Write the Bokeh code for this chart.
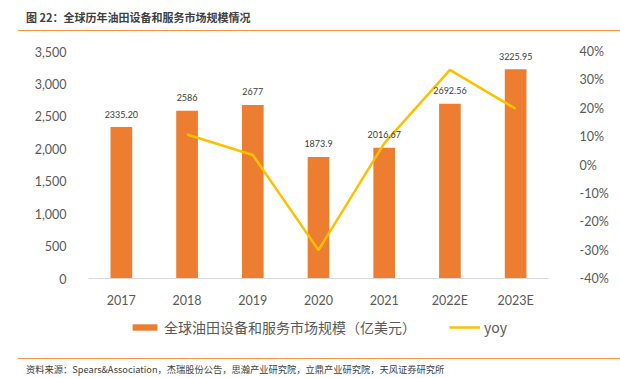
from bokeh.plotting import figure
from bokeh.layouts import column
from bokeh.models import (Range1d, LinearAxis, NumeralTickFormatter, ColumnDataSource,
                          LabelSet, Legend, LegendItem, FixedTicker, Div)
from bokeh.core.properties import value
from bokeh.embed import file_html
from bokeh.resources import INLINE

years = ["2017", "2018", "2019", "2020", "2021", "2022E", "2023E"]
market = [2335.20, 2586, 2677, 1873.9, 2016.67, 2692.56, 3225.95]
market_labels = ["2335.20", "2586", "2677", "1873.9", "2016.67", "2692.56", "3225.95"]
yoy_years = ["2018", "2019", "2020", "2021", "2022E", "2023E"]
yoy = [0.1074, 0.0352, -0.3000, 0.0762, 0.3351, 0.1981]
left_ticks = [0, 500, 1000, 1500, 2000, 2500, 3000, 3500]
right_ticks = [-0.4, -0.3, -0.2, -0.1, 0.0, 0.1, 0.2, 0.3, 0.4]

title_text = "图 22：全球历年油田设备和服务市场规模情况"
bar_name = "全球油田设备和服务市场规模（亿美元）"
line_name = "yoy"
source_text = "资料来源：Spears&Association，杰瑞股份公告，思瀚产业研究院，立鼎产业研究院，天风证券研究所"

CJK = "Noto Sans CJK SC"
NUM = "Lato"
GRAY = "#595959"
BAR = "#ED7D31"
LINE = "#FFC000"
ORANGE_RULE = "#F79646"
W = 620


def banner(height, text, text_top, rule_top, size, weight):
    html = (
        f'<div style="position:relative;width:{W}px;height:{height}px;">'
        f'<div style="position:absolute;left:26px;top:{text_top}px;white-space:nowrap;'
        f"font-family:'{CJK}';font-size:{size};font-weight:{weight};color:#404040;line-height:1;\">"
        f'{text}</div>'
        f'<div style="position:absolute;left:18px;top:{rule_top}px;width:{W - 18}px;'
        f'height:1.5px;background:{ORANGE_RULE};"></div></div>'
    )
    return Div(text=html, width=W, height=height, margin=0)


top = banner(40, title_text, 12, 29.5, "11px", "bold")

p = figure(width=W, height=270, x_range=years, y_range=Range1d(0, 3500),
           output_backend="svg", toolbar_location=None,
           min_border_left=88, min_border_right=72, min_border_top=11, min_border_bottom=30)
p.extra_y_ranges = {"yoy": Range1d(-0.4, 0.4)}
p.outline_line_color = None
p.xgrid.grid_line_color = None
p.ygrid.grid_line_color = None
p.margin = 0

src = ColumnDataSource(dict(year=years, value=market, label=market_labels))
bars = p.vbar(x="year", top="value", width=0.33, source=src, fill_color=BAR, line_color=None)
line = p.line(x=yoy_years, y=yoy, y_range_name="yoy", line_color=LINE, line_width=2.5)

labels = LabelSet(x="year", y="value", text="label", source=src, y_offset=13,
                  text_align="center", text_baseline="middle", text_font_size="9px",
                  text_font=value(NUM), text_color="#404040")
p.add_layout(labels)

p.xaxis.axis_line_color = "#D9D9D9"
p.xaxis.major_tick_line_color = None
p.xaxis.minor_tick_line_color = None
p.xaxis.major_label_text_font = NUM
p.xaxis.major_label_text_font_size = "12.5px"
p.xaxis.major_label_text_color = GRAY
p.xaxis.major_label_standoff = 8

ly = p.yaxis[0]
ly.ticker = FixedTicker(ticks=left_ticks)
ly.formatter = NumeralTickFormatter(format="0,0")
ly.axis_line_color = None
ly.major_tick_line_color = None
ly.minor_tick_line_color = None
ly.major_label_text_font = NUM
ly.major_label_text_font_size = "12.5px"
ly.major_label_text_color = GRAY
ly.major_label_standoff = 16

ry = LinearAxis(y_range_name="yoy", ticker=FixedTicker(ticks=right_ticks),
                formatter=NumeralTickFormatter(format="0%"))
ry.axis_line_color = None
ry.major_tick_line_color = None
ry.minor_tick_line_color = None
ry.major_label_text_font = NUM
ry.major_label_text_font_size = "12.5px"
ry.major_label_text_color = GRAY
ry.major_label_standoff = 25
p.add_layout(ry, "right")

# legend strip (key swatches use off-range sample points so only the legend shows them)
lg = figure(width=W, height=34, output_backend="svg", toolbar_location=None,
            x_axis_type=None, y_axis_type=None, min_border=0,
            x_range=Range1d(0, 1), y_range=Range1d(0, 1))
lg.outline_line_color = None
lg.xgrid.visible = False
lg.ygrid.visible = False
lg.margin = 0
lbar = lg.vbar(x=[5], top=[5], bottom=[4], width=0.1, fill_color=BAR, line_color=None)
lline = lg.line(x=[5, 6], y=[5, 5], line_color=LINE, line_width=2.5)
leg = Legend(items=[LegendItem(label=bar_name, renderers=[lbar]),
                    LegendItem(label=line_name, renderers=[lline])],
             location="center", orientation="horizontal",
             glyph_width=31, glyph_height=8, label_height=16, label_text_font_size="14px",
             label_text_font=CJK, label_text_color=GRAY, label_standoff=4, spacing=33,
             padding=0, margin=0, border_line_color=None, background_fill_alpha=0)
lg.add_layout(leg)

bottom = banner(34, source_text, 21, 13.5, "9.25px", "normal")

layout = column(top, p, lg, bottom, spacing=0)
open("out.html", "w").write(file_html(layout, INLINE))
